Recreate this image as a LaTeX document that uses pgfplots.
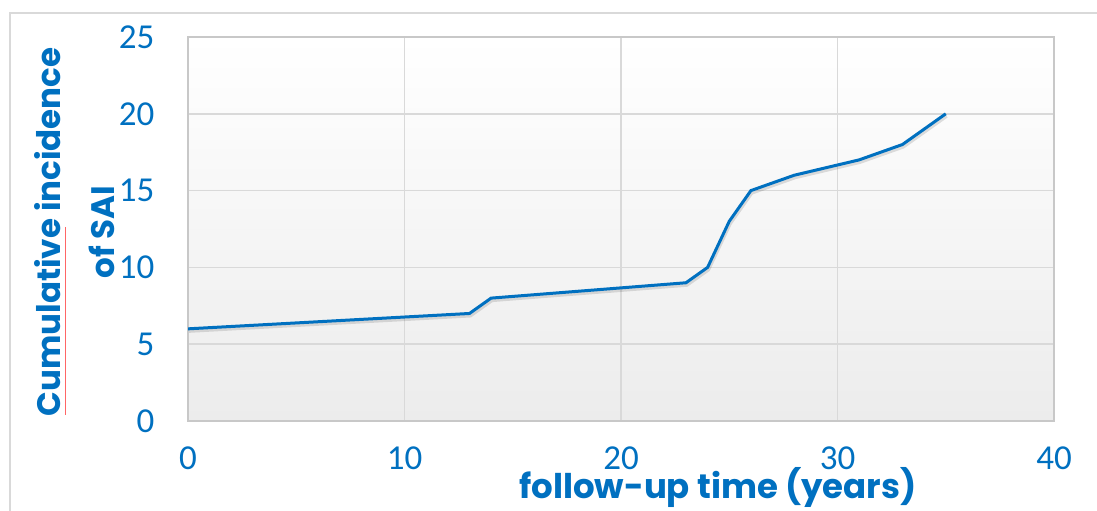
\documentclass[border=0pt]{standalone}
\usepackage{pgfplots}
\pgfplotsset{compat=1.18}
\usepackage{fontspec}
\setmainfont{Carlito}
\newfontfamily\labfont{Poppins}
\definecolor{xlblue}{HTML}{0070C0}
\definecolor{gridg}{HTML}{D9D9D9}
\definecolor{frameg}{HTML}{C8C8C8}
\begin{document}
\begin{tikzpicture}[x=1pt,y=1pt]
\path[use as bounding box] (0,0) rectangle (1097,511);
\draw[gridg, line width=2pt] (10,0) -- (10,498) -- (1097,498);
\begin{axis}[
  at={(188pt,90pt)}, anchor=south west,
  width=866pt, height=384pt, scale only axis,
  xmin=0, xmax=40, ymin=0, ymax=25,
  xtick={0,10,20,30,40}, ytick={0,5,10,15,20,25},
  grid=major, major grid style={gridg, line width=1.5pt},
  axis line style={frameg, line width=1.5pt},
  major tick length=0pt,
  tick label style={font=\fontsize{35}{40}\selectfont, text=xlblue},
  /pgf/number format/assume math mode=true,
  xticklabel style={yshift=-22pt},
  yticklabel style={xshift=-30pt},
  axis background/.style={top color=white, bottom color={rgb,255:red,236;green,236;blue,236}},
]
\addplot[black, opacity=0.12, line width=3pt, yshift=-2.5pt, xshift=1pt] coordinates {
(0,6) (13,7) (14,8) (23,9) (24,10) (25,13) (26,15) (28,16) (31,17) (33,18) (35,20)};
\addplot[xlblue, line width=3pt] coordinates {
(0,6) (13,7) (14,8) (23,9) (24,10) (25,13) (26,15) (28,16) (31,17) (33,18) (35,20)};
\end{axis}
\node[rotate=90, align=center, text=xlblue, font=\labfont\bfseries\fontsize{32.5}{54}\selectfont] at (75,279) {Cumulative incidence\\of SAI};
\node[anchor=base, text=xlblue, font=\labfont\bfseries\fontsize{34}{40}\selectfont] at (718,12) {follow-up time (years)};
\draw[red!60, line width=0.6pt] (65,284) -- (65,96);
\end{tikzpicture}
\end{document}
